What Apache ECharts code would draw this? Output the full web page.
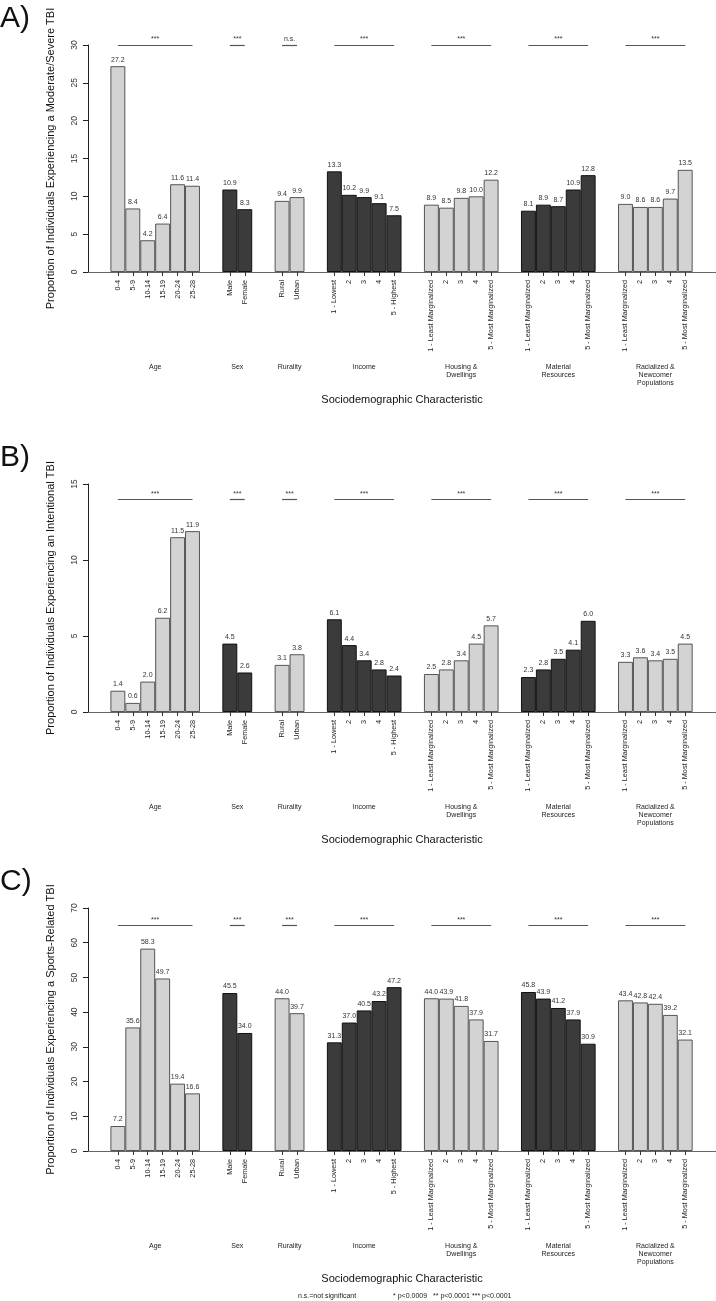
<!DOCTYPE html>
<html>
<head>
<meta charset="utf-8">
<script src="https://cdn.jsdelivr.net/npm/echarts@6/dist/echarts.min.js"></script>
<style>
  html, body { margin: 0; padding: 0; background: #fff; }
  #chart { width: 716px; height: 1301px; }
</style>
</head>
<body>
<div id="chart"></div>
<script>
// categories
const groupNames = ['Age', 'Sex', 'Rurality', 'Income', 'Housing &\nDwellings', 'Material\nResources', 'Racialized &\nNewcomer\nPopulations']
const ageCats = ['0-4', '5-9', '10-14', '15-19', '20-24', '25-28']
const sexCats = ['Male', 'Female']
const ruralCats = ['Rural', 'Urban']
const incomeCats = ['1 - Lowest', '2', '3', '4', '5 - Highest']
const margCats = ['1 - Least Marginalized', '2', '3', '4', '5 - Most Marginalized']
const groupCats = [ageCats, sexCats, ruralCats, incomeCats, margCats, margCats, margCats]
const groupDark = [false, true, false, true, false, true, false]

// A) moderate/severe TBI (%)
const modAge = [27.2, 8.4, 4.2, 6.4, 11.6, 11.4]
const modSex = [10.9, 8.3]
const modRural = [9.4, 9.9]
const modIncome = [13.3, 10.2, 9.9, 9.1, 7.5]
const modHousing = [8.9, 8.5, 9.8, 10.0, 12.2]
const modMaterial = [8.1, 8.9, 8.7, 10.9, 12.8]
const modRacial = [9.0, 8.6, 8.6, 9.7, 13.5]
const modSig = ['***', '***', 'n.s.', '***', '***', '***', '***']

// B) intentional TBI (%)
const intAge = [1.4, 0.6, 2.0, 6.2, 11.5, 11.9]
const intSex = [4.5, 2.6]
const intRural = [3.1, 3.8]
const intIncome = [6.1, 4.4, 3.4, 2.8, 2.4]
const intHousing = [2.5, 2.8, 3.4, 4.5, 5.7]
const intMaterial = [2.3, 2.8, 3.5, 4.1, 6.0]
const intRacial = [3.3, 3.6, 3.4, 3.5, 4.5]
const intSig = ['***', '***', '***', '***', '***', '***', '***']

// C) sports-related TBI (%)
const spoAge = [7.2, 35.6, 58.3, 49.7, 19.4, 16.6]
const spoSex = [45.5, 34.0]
const spoRural = [44.0, 39.7]
const spoIncome = [31.3, 37.0, 40.5, 43.2, 47.2]
const spoHousing = [44.0, 43.9, 41.8, 37.9, 31.7]
const spoMaterial = [45.8, 43.9, 41.2, 37.9, 30.9]
const spoRacial = [43.4, 42.8, 42.4, 39.2, 32.1]
const spoSig = ['***', '***', '***', '***', '***', '***', '***']

const FONT = '"Liberation Sans", Arial, sans-serif'

// 面板布局
const panels = [
  { letter: 'A)', top: 45, height: 227, max: 30, interval: 5, sigY: 30, title: 'Proportion of Individuals Experiencing a Moderate/Severe TBI',
    values: [modAge, modSex, modRural, modIncome, modHousing, modMaterial, modRacial], sig: modSig },
  { letter: 'B)', top: 484, height: 228, max: 15, interval: 5, sigY: 14, title: 'Proportion of Individuals Experiencing an Intentional TBI',
    values: [intAge, intSex, intRural, intIncome, intHousing, intMaterial, intRacial], sig: intSig },
  { letter: 'C)', top: 908, height: 243, max: 70, interval: 10, sigY: 65, title: 'Proportion of Individuals Experiencing a Sports-Related TBI',
    values: [spoAge, spoSex, spoRural, spoIncome, spoHousing, spoMaterial, spoRacial], sig: spoSig }
]

const plotLeft = 88
const barW = 14.93 // 柱宽
const gapW = 1.5 * barW // 组间距

const grid = []
const xAxis = []
const yAxis = []
const series = []
const graphic = []

panels.forEach(p => {
  // 主坐标系: y轴 + x轴线
  let mi = grid.length
  grid.push({ left: plotLeft, right: 0, top: p.top, height: p.height })
  xAxis.push({
    gridIndex: mi, type: 'value', min: 0, max: 1,
    axisLine: { show: true, lineStyle: { color: '#666', width: 1 } },
    axisTick: { show: false }, axisLabel: { show: false }, splitLine: { show: false },
    name: 'Sociodemographic Characteristic', nameLocation: 'middle', nameGap: 122,
    nameTextStyle: { fontFamily: FONT, fontSize: 11, color: '#111', verticalAlign: 'top' }
  })
  yAxis.push({
    gridIndex: mi, type: 'value', min: 0, max: p.max, interval: p.interval,
    axisLine: { show: true, lineStyle: { color: '#222', width: 1 } },
    axisTick: { show: true, length: 5, lineStyle: { color: '#222' } },
    axisLabel: { rotate: 90, fontFamily: FONT, fontSize: 8.5, color: '#333', margin: 9 },
    splitLine: { show: false },
    name: p.title, nameLocation: 'middle', nameGap: 32,
    nameTextStyle: { fontFamily: FONT, fontSize: 11, color: '#111' }
  })

  // 各分组
  let x0 = plotLeft + gapW
  groupCats.forEach((cats, g) => {
    let gi = grid.length
    let w = cats.length * barW
    grid.push({ left: x0, width: w, top: p.top, height: p.height })
    xAxis.push({
      gridIndex: gi, type: 'category', data: cats,
      axisLine: { show: false },
      axisTick: { show: true, alignWithLabel: true, length: 4, lineStyle: { color: '#333' } },
      axisLabel: { interval: 0, rotate: 90, fontFamily: FONT, fontSize: 7.3, color: '#222', margin: 8 },
      name: groupNames[g], nameLocation: 'middle', nameGap: 91,
      nameTextStyle: { fontFamily: FONT, fontSize: 7, color: '#222', lineHeight: 8, verticalAlign: 'top' }
    })
    yAxis.push({ gridIndex: gi, type: 'value', min: 0, max: p.max, show: false })
    let dark = groupDark[g]
    series.push({
      type: 'bar', xAxisIndex: gi, yAxisIndex: gi,
      data: p.values[g],
      barCategoryGap: '0%',
      itemStyle: {
        color: dark ? '#3b3b3b' : '#d3d3d3',
        borderColor: dark ? '#111' : '#555',
        borderWidth: 1
      },
      label: {
        show: true, position: 'top', distance: 3,
        fontFamily: FONT, fontSize: 7, color: '#333',
        formatter: v => v.value.toFixed(1)
      },
      markLine: {
        silent: true, symbol: 'none', animation: false,
        lineStyle: { color: '#555', width: 1.2, type: 'solid' },
        label: { show: true, position: 'insideMiddleTop', distance: 2, fontFamily: FONT, fontSize: 7, color: '#333', formatter: p.sig[g] },
        data: [[{ coord: [0, p.sigY] }, { coord: [cats.length - 1, p.sigY] }]]
      }
    })
    x0 += w + gapW
  })

  graphic.push({
    type: 'text', left: 0, top: p.top - 41,
    style: { text: p.letter, fontFamily: FONT, fontSize: 30, fill: '#111' }
  })
})

// 图例说明
const notes = ['n.s.=not significant', '* p<0.0009', '** p<0.0001', '*** p<0.0001']
const noteX = [298, 393, 433, 472]
notes.forEach((t, i) => {
  graphic.push({
    type: 'text', left: noteX[i], top: 1293,
    style: { text: t, fontFamily: FONT, fontSize: 7, fill: '#222' }
  })
})

let myChart = echarts.init(document.getElementById('chart'))
myChart.setOption({
  animation: false,
  backgroundColor: '#fff',
  grid: grid,
  xAxis: xAxis,
  yAxis: yAxis,
  series: series,
  graphic: graphic
})
</script>
</body>
</html>
